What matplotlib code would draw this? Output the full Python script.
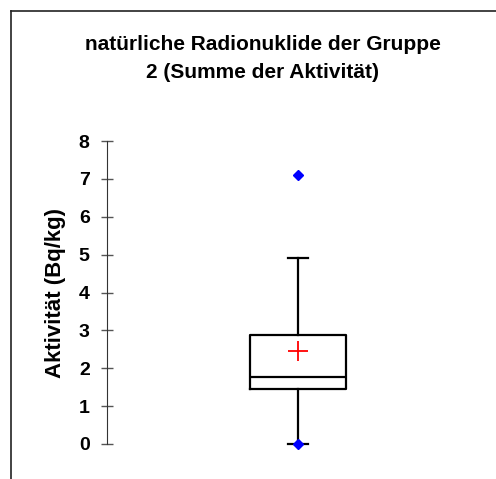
import matplotlib.pyplot as plt
from matplotlib.lines import Line2D

# box statistics (Bq/kg)
q1, median, q3 = 1.46, 1.78, 2.89
whisker_low, whisker_high = 0.0, 4.9
mean = 2.46
outliers = [0.0, 7.1]
yticks = [0, 1, 2, 3, 4, 5, 6, 7, 8]

title = 'natürliche Radionuklide der Gruppe\n2 (Summe der Aktivität)'
ylabel = 'Aktivität (Bq/kg)'

plt.rcParams['font.family'] = ['Liberation Sans', 'DejaVu Sans']

W, H = 496, 479
fig = plt.figure(figsize=(W / 100, H / 100), dpi=100)
ax = fig.add_axes([107 / W, 35 / H, 382 / W, 303 / H])

stats = [dict(med=median, q1=q1, q3=q3, whislo=whisker_low,
              whishi=whisker_high, mean=mean, fliers=outliers)]
ax.bxp(stats, positions=[0.5], widths=0.249, showmeans=True,
       boxprops=dict(color='black', linewidth=1.6),
       medianprops=dict(color='black', linewidth=1.6),
       whiskerprops=dict(color='black', linewidth=1.6),
       capprops=dict(color='black', linewidth=1.6),
       capwidths=0.05,
       meanprops=dict(marker='+', markersize=15, markeredgecolor='red',
                      markeredgewidth=1.3),
       flierprops=dict(marker='D', markersize=5.5, markerfacecolor='blue',
                       markeredgecolor='blue'))
for art in ax.get_children():
    art.set_clip_on(False)

ax.set_xlim(0, 1)
ax.set_ylim(0, 8)
ax.set_yticks(yticks)
ax.set_xticks([])
for s in ['top', 'right', 'bottom']:
    ax.spines[s].set_visible(False)
ax.spines['left'].set_color('#333333')
ax.tick_params(axis='y', direction='inout', length=8, width=1,
               color='#555555', labelsize=14, pad=8.5)
for lab in ax.get_yticklabels():
    lab.set_fontweight('bold')
ax.set_ylabel(ylabel, fontsize=16, fontweight='bold', labelpad=9)

fig.text(263 / W, 1 - 58 / H, title, ha='center', va='center',
         fontsize=15, fontweight='bold', linespacing=1.6)

# frame lines at top and left of the picture
fig.add_artist(Line2D([11 / W, 11 / W], [0, 1 - 11 / H],
                      transform=fig.transFigure, color='#222222', lw=1.2))
fig.add_artist(Line2D([11 / W, 1], [1 - 11 / H, 1 - 11 / H],
                      transform=fig.transFigure, color='#222222', lw=1.2))

fig.savefig('out.png', dpi=100)
